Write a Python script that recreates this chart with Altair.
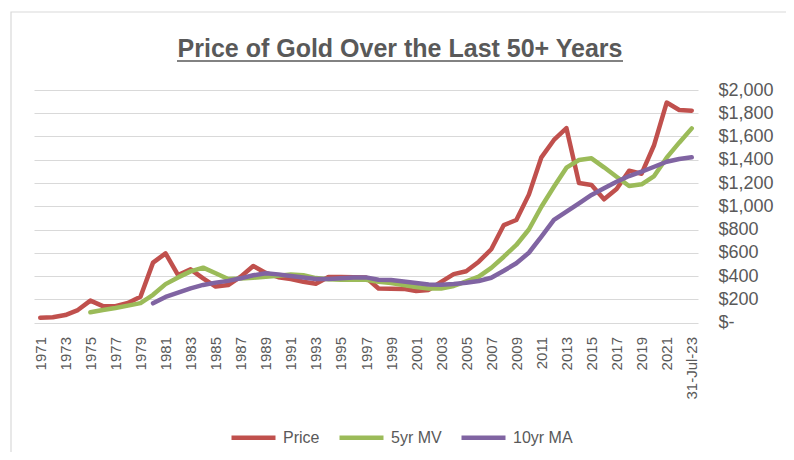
import altair as alt
import pandas as pd

categories = [str(y) for y in range(1971, 2023)] + ["31-Jul-23"]
label_values = [str(y) for y in range(1971, 2022, 2)] + ["31-Jul-23"]

price = [40, 45, 64, 107, 188, 141, 140, 168, 222, 515,
         595, 408, 457, 380, 309, 322, 394, 486, 426, 390,
         373, 351, 334, 391, 391, 389, 387, 292, 290, 289,
         271, 280, 350, 416, 441, 523, 630, 838, 882, 1100,
         1421, 1570, 1672, 1200, 1183, 1060, 1148, 1306, 1280, 1527,
         1892, 1828, 1822]
mv5 = [None, None, None, None, 88, 108, 125, 145, 167, 238,
       330, 388, 440, 472, 423, 374, 378, 385, 393, 403,
       413, 406, 382, 372, 368, 368, 368, 350, 340, 322,
       306, 292, 292, 314, 354, 394, 470, 566, 667, 800,
       996, 1168, 1332, 1398, 1412, 1335, 1254, 1174, 1189, 1260,
       1418, 1547, 1670]
ma10 = [None, None, None, None, None, None, None, None, None, 165,
        220, 256, 294, 323, 343, 358, 380, 406, 423, 414,
        400, 387, 374, 374, 380, 388, 388, 368, 365, 352,
        340, 327, 325, 331, 342, 357, 385, 445, 510, 600,
        738, 882, 953, 1025, 1097, 1154, 1211, 1260, 1297, 1340,
        1383, 1406, 1421]

series_names = ["Price", "5yr MV", "10yr MA"]
series_colors = ["#C0504D", "#9BBB59", "#8064A2"]
title_text = "Price of Gold Over the Last 50+ Years"

rows = []
for name, vals in zip(series_names, [price, mv5, ma10]):
    for c, v in zip(categories, vals):
        rows.append({"Year": c, "Series": name, "Value": v})
df = pd.DataFrame(rows)

TEXT = "#595959"
GRID = "#D9D9D9"

lines = alt.Chart(df).mark_line(strokeWidth=4.5, strokeCap="round", strokeJoin="round").encode(
    x=alt.X("Year:N", sort=categories,
            scale=alt.Scale(type="point", domain=categories, padding=0.5),
            axis=alt.Axis(title=None, values=label_values, labelAngle=-90,
                          labelFont="Liberation Sans", labelFontSize=15, labelColor=TEXT,
                          labelPadding=14, ticks=False, tickSize=0, domain=False,
                          grid=False, labelOverlap=False)),
    y=alt.Y("Value:Q",
            scale=alt.Scale(domain=[0, 2000], nice=False),
            axis=alt.Axis(title=None, orient="right", values=list(range(0, 2001, 200)),
                          labelExpr="datum.value == 0 ? '$-' : '$' + format(datum.value, ',')",
                          labelFont="Liberation Sans", labelFontSize=18, labelColor=TEXT,
                          labelAlign="left", labelPadding=20, ticks=False, tickSize=0,
                          domain=False, grid=True, gridColor=GRID, gridWidth=1.2)),
    color=alt.Color("Series:N",
                    scale=alt.Scale(domain=series_names, range=series_colors),
                    legend=alt.Legend(title=None, orient="none", direction="horizontal",
                                      legendX=195, legendY=323,
                                      symbolType="stroke", symbolSize=1936,
                                      symbolStrokeWidth=4.5,
                                      labelFont="Liberation Sans", labelFontSize=16,
                                      labelColor=TEXT, labelOffset=5, columnPadding=10)),
)

frame_df = pd.DataFrame({"t": [title_text]})
border = alt.Chart(frame_df).mark_rect(fill=None, filled=False, stroke=GRID, strokeWidth=1.2, clip=False).encode(
    x=alt.value(-23), x2=alt.value(756), y=alt.value(-78), y2=alt.value(400)
)
title = alt.Chart(frame_df).mark_text(font="Liberation Sans", fontSize=25, fontWeight="bold",
                                      color=TEXT, align="center", baseline="alphabetic",
                                      clip=False).encode(
    x=alt.value(366), y=alt.value(-33), text="t:N"
)
underline = alt.Chart(frame_df).mark_rule(stroke=TEXT, strokeWidth=1.6, clip=False).encode(
    x=alt.value(143), x2=alt.value(589), y=alt.value(-29)
)

chart = alt.layer(border, lines, title, underline).properties(
    width=664,
    height=232.5,
    autosize=alt.AutoSizeParams(type="none"),
    padding={"left": 26, "top": 82, "right": 88, "bottom": 129},
).configure_view(stroke=None)

chart.save("out.html", embed_options={"renderer": "svg", "actions": False})
